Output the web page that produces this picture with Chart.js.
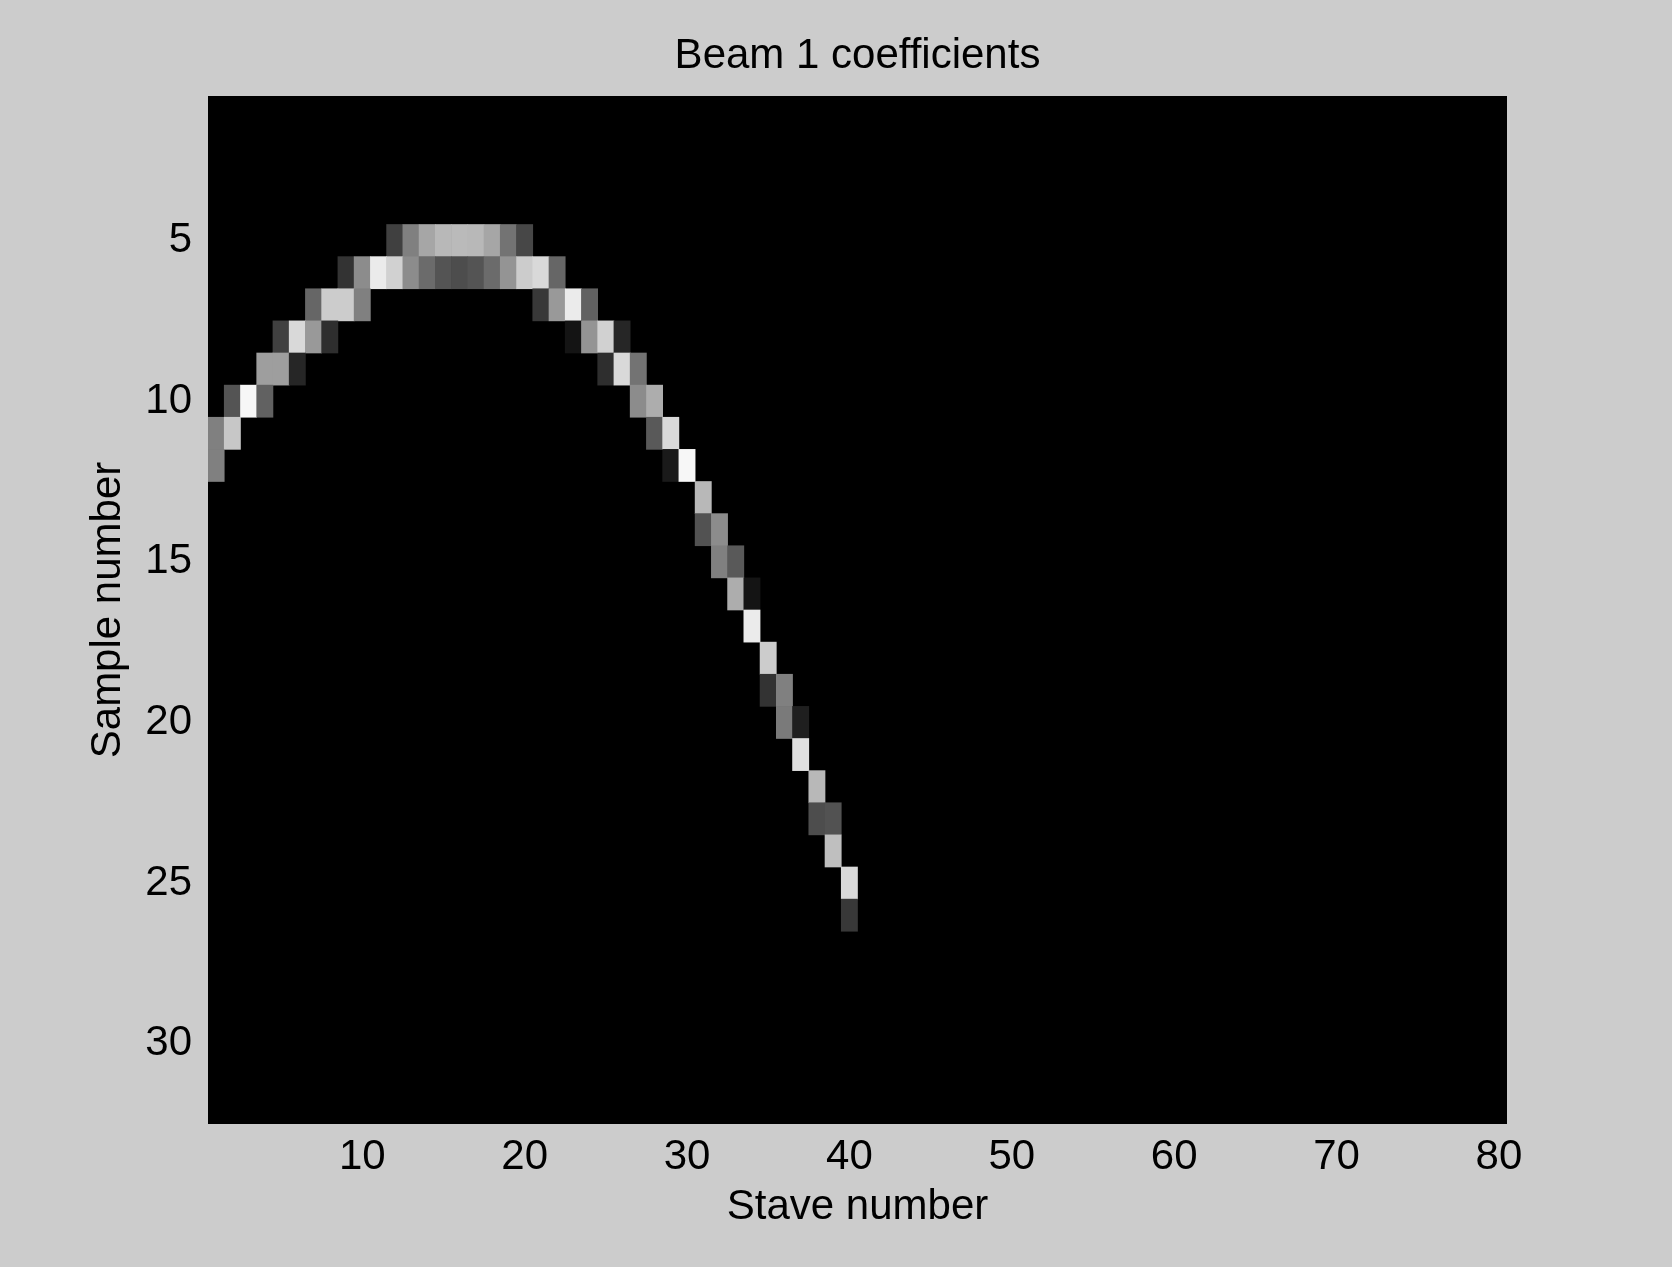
<!DOCTYPE html>
<html>
<head>
<meta charset="utf-8">
<script src="https://cdn.jsdelivr.net/npm/chart.js@4/dist/chart.umd.min.js"></script>
<style>
html,body{margin:0;padding:0;background:#cccccc;}
canvas{display:block;}
</style>
</head>
<body>
<canvas id="c" width="1672" height="1267"></canvas>
<script>
const titleText = 'Beam 1 coefficients';
const xTitle = 'Stave number';
const yTitle = 'Sample number';
const xTickValues = [10, 20, 30, 40, 50, 60, 70, 80];
const yTickValues = [5, 10, 15, 20, 25, 30];
const staveRange = [0.5, 80.5];
const sampleRange = [0.5, 32.5];

// non-zero cells of the 32 x 80 coefficient image (everything else is 0)
const staves = [
  12,13,14,15,16,17,18,19,20,
  9,10,11,12,13,14,15,16,17,18,19,20,21,22,
  7,8,9,10,21,22,23,24,
  5,6,7,8,23,24,25,26,
  4,5,6,25,26,27,
  2,3,4,27,28,
  1,2,28,29,
  1,29,30,
  31,
  31,32,
  32,33,
  33,34,
  34,
  35,
  35,36,
  36,37,
  37,
  38,
  38,39,
  39,
  40,
  40
];
const samples = [
  5,5,5,5,5,5,5,5,5,
  6,6,6,6,6,6,6,6,6,6,6,6,6,6,
  7,7,7,7,7,7,7,7,
  8,8,8,8,8,8,8,8,
  9,9,9,9,9,9,
  10,10,10,10,10,
  11,11,11,11,
  12,12,12,
  13,
  14,14,
  15,15,
  16,16,
  17,
  18,
  19,19,
  20,20,
  21,
  22,
  23,23,
  24,
  25,
  26
];
const coefficients = [
  0.25,0.50,0.65,0.72,0.73,0.72,0.65,0.45,0.28,
  0.20,0.55,0.92,0.82,0.55,0.42,0.33,0.30,0.33,0.42,0.58,0.80,0.85,0.40,
  0.40,0.80,0.80,0.50,0.22,0.60,0.92,0.38,
  0.25,0.85,0.60,0.18,0.08,0.58,0.82,0.15,
  0.62,0.62,0.15,0.18,0.85,0.45,
  0.33,0.97,0.38,0.55,0.68,
  0.50,0.78,0.35,0.85,
  0.50,0.10,0.97,
  0.72,
  0.32,0.55,
  0.50,0.35,
  0.68,0.08,
  0.92,
  0.80,
  0.20,0.50,
  0.48,0.12,
  0.88,
  0.72,
  0.30,0.32,
  0.75,
  0.85,
  0.22
];

const cells = staves.map((s, i) => ({ x: s, y: [samples[i] - 0.5, samples[i] + 0.5], v: coefficients[i] }));
const grayOf = v => { const g = Math.round(Math.max(0, Math.min(1, v)) * 255); return `rgb(${g},${g},${g})`; };

const FONT = { family: "'Liberation Sans', Arial, Helvetica, sans-serif", size: 42, weight: 'normal' };

const blackArea = {
  id: 'blackArea',
  beforeDatasetsDraw(chart) {
    const { ctx, chartArea: a } = chart;
    ctx.save();
    ctx.fillStyle = '#000000';
    ctx.fillRect(a.left, a.top, a.width, a.height);
    ctx.restore();
  }
};

new Chart(document.getElementById('c'), {
  type: 'bar',
  data: {
    datasets: [{
      data: cells,
      backgroundColor: ctx => grayOf(ctx.raw ? ctx.raw.v : 0),
      borderWidth: 0,
      borderSkipped: false,
      categoryPercentage: 1,
      barPercentage: 1
    }]
  },
  plugins: [blackArea],
  options: {
    responsive: false,
    devicePixelRatio: 1,
    animation: false,
    events: [],
    layout: { padding: { left: 0, right: 165, top: 0, bottom: 0 } },
    plugins: {
      legend: { display: false },
      tooltip: { enabled: false },
      title: {
        display: true,
        text: titleText,
        color: '#000000',
        fullSize: false,
        font: FONT,
        padding: { top: 31, bottom: 14.6 }
      }
    },
    scales: {
      x: {
        type: 'linear',
        min: staveRange[0],
        max: staveRange[1],
        offset: false,
        grid: { display: false, drawTicks: false },
        border: { display: false },
        afterBuildTicks: s => { s.ticks = xTickValues.map(v => ({ value: v })); },
        afterFit: s => { s.height = 143; },
        ticks: { color: '#000000', font: FONT, padding: 8, maxRotation: 0, autoSkip: false },
        title: { display: true, text: xTitle, color: '#000000', font: FONT, padding: { top: 0, bottom: 34 } }
      },
      y: {
        type: 'linear',
        reverse: true,
        min: sampleRange[0],
        max: sampleRange[1],
        grid: { display: false, drawTicks: false },
        border: { display: false },
        afterBuildTicks: s => { s.ticks = yTickValues.map(v => ({ value: v })); },
        afterFit: s => { s.width = 208; },
        ticks: { color: '#000000', font: FONT, padding: 16, autoSkip: false },
        title: { display: true, text: yTitle, color: '#000000', font: FONT, padding: { top: 83, bottom: 0 } }
      }
    }
  }
});
</script>
</body>
</html>
